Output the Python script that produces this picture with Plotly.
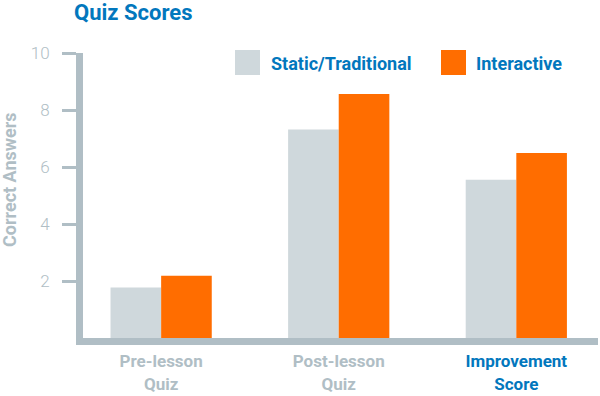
import plotly.graph_objects as go

categories = ["Pre-lesson<br>Quiz", "Post-lesson<br>Quiz", "Improvement<br>Score"]
static_vals = [1.77, 7.32, 5.55]
interactive_vals = [2.18, 8.56, 6.49]
y_ticks = [2, 4, 6, 8, 10]

GRAY_AXIS = "#b0bec5"
BAR_GRAY = "#cfd8dc"
ORANGE = "#ff6d00"
BLUE = "#0277bd"
FONT = "Roboto"

x_idx = list(range(len(categories)))
ticktext = [
    categories[0],
    categories[1],
    "<span style='color:%s'>%s</span>" % (BLUE, categories[2].replace("<br>", "</span><br><span style='color:%s'>" % BLUE)),
]

fig = go.Figure()
fig.add_trace(go.Bar(x=x_idx, y=static_vals, name="Static/Traditional",
                     marker=dict(color=BAR_GRAY, line=dict(width=0))))
fig.add_trace(go.Bar(x=x_idx, y=interactive_vals, name="Interactive",
                     marker=dict(color=ORANGE, line=dict(width=0))))

W, H = 600, 396
L, R, T, B = 83, 2, 53, 58
pw, ph = W - L - R, H - T - B

def px_x(x):  # page pixel -> paper coordinate
    return (x - L) / pw

def px_y(y):
    return (H - B - y) / ph

fig.update_layout(
    width=W, height=H,
    autosize=False,
    margin=dict(l=L, r=R, t=T, b=B, pad=0, autoexpand=False),
    paper_bgcolor="white", plot_bgcolor="white",
    barmode="group", bargap=0.43, bargroupgap=0,
    showlegend=False,
    font=dict(family=FONT),
    title=dict(text="<b>Quiz Scores</b>", font=dict(size=22, color=BLUE, family=FONT),
               xref="container", x=74 / W, xanchor="left",
               yref="container", y=1 - 12 / H, yanchor="middle", automargin=False),
    xaxis=dict(range=[-0.44, 2.46], tickvals=x_idx, ticktext=ticktext,
               showgrid=False, zeroline=False, showline=True, linewidth=7,
               linecolor=GRAY_AXIS, ticks="", automargin=False, ticklabelstandoff=2,
               tickfont=dict(size=17, color=GRAY_AXIS, family=FONT, weight="bold")),
    yaxis=dict(range=[0, 10], tickvals=y_ticks, showgrid=False, zeroline=False,
               showline=True, linewidth=7, linecolor=GRAY_AXIS, automargin=False,
               ticks="outside", ticklen=14, tickwidth=3, tickcolor=GRAY_AXIS,
               ticklabelstandoff=9,
               tickfont=dict(size=17, color=GRAY_AXIS, family=FONT, weight=300)),
)

# y-axis title
fig.add_annotation(text="<b>Correct Answers</b>", textangle=-90, showarrow=False,
                   xref="paper", yref="paper", x=px_x(9), y=px_y(180),
                   xanchor="center", yanchor="middle",
                   font=dict(size=18, color=GRAY_AXIS, family=FONT))

# custom legend
legend_items = [("Static/Traditional", BAR_GRAY, 235, 269), ("Interactive", ORANGE, 441, 474)]
for name, color, sx, tx in legend_items:
    fig.add_shape(type="rect", xref="paper", yref="paper",
                  x0=px_x(sx), x1=px_x(sx + 25), y0=px_y(75), y1=px_y(50),
                  fillcolor=color, line=dict(width=0), layer="above")
    fig.add_annotation(text="<b>%s</b>" % name, showarrow=False,
                       xref="paper", yref="paper", x=px_x(tx), y=px_y(63),
                       xanchor="left", yanchor="middle",
                       font=dict(size=18, color=BLUE, family=FONT))

fig.write_html("out.html", config={"displayModeBar": False},
               post_script="document.body.style.margin='0px';")
